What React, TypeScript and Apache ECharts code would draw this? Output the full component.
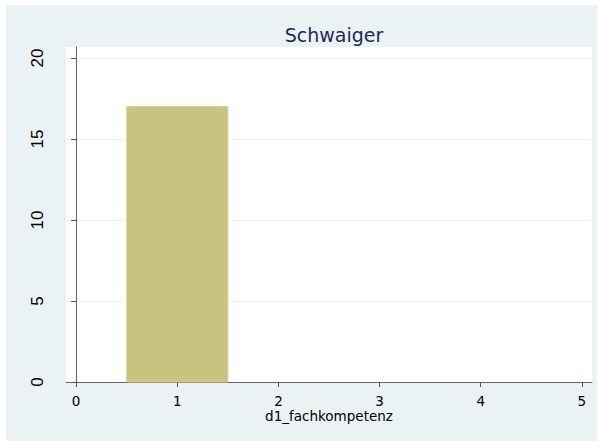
import React, { useEffect, useRef } from "react";
import * as echarts from "echarts";

const titleText = "Schwaiger";
const xName = "d1_fachkompetenz";
// histogram bins: [start, end, frequency]
const binStarts = [0.5];
const binEnds = [1.5];
const binFreqs = [17];
const xTicks = [0, 1, 2, 3, 4, 5];
const yTicks = [0, 5, 10, 15, 20];

export default function App() {
  const ref = useRef<HTMLDivElement>(null);
  useEffect(() => {
    document.body.style.margin = "0";
    const chart = echarts.init(ref.current!, null, { renderer: "svg" });
    const data = binStarts.map((s, i) => [s, binEnds[i], binFreqs[i]]);
    chart.setOption({
      animation: false,
      backgroundColor: "#ffffff",
      graphic: [
        {
          type: "rect",
          z: -10,
          shape: { x: 6, y: 5, width: 591, height: 436 },
          style: { fill: "#EAF2F3" },
          silent: true,
        },
      ],
      title: {
        text: titleText,
        left: 329,
        textAlign: "center",
        top: 20,
        textStyle: {
          fontFamily: "DejaVu Sans",
          fontSize: 19,
          fontWeight: "normal",
          color: "#1E2A55",
        },
      },
      grid: {
        left: 66,
        right: 7,
        top: 47,
        bottom: 59,
        show: true,
        backgroundColor: "#ffffff",
        borderWidth: 0,
      },
      xAxis: {
        type: "value",
        min: -0.1,
        max: 5.1,
        name: xName,
        nameLocation: "middle",
        nameGap: 27,
        nameMoveOverlap: false,
        nameTextStyle: { fontFamily: "DejaVu Sans", fontSize: 13.5, lineHeight: 13, color: "#000" },
        axisLine: { show: true, onZero: false, lineStyle: { color: "#666", width: 1 } },
        axisTick: {
          show: true,
          customValues: xTicks,
          length: 5,
          lineStyle: { color: "#555", width: 1 },
        },
        axisLabel: {
          customValues: xTicks,
          margin: 12,
          fontFamily: "DejaVu Sans",
          fontSize: 13.5,
          lineHeight: 13,
          color: "#000",
        },
        splitLine: { show: false },
      },
      yAxis: {
        type: "value",
        min: 0,
        max: 20.68,
        axisLine: { show: true, lineStyle: { color: "#666", width: 1 } },
        axisTick: {
          show: true,
          customValues: yTicks,
          length: 5,
          lineStyle: { color: "#555", width: 1 },
        },
        axisLabel: {
          customValues: yTicks,
          rotate: 90,
          margin: 20,
          fontFamily: "Liberation Sans",
          fontSize: 17,
          color: "#000",
        },
        splitLine: { show: true, lineStyle: { color: "#EEF4F5", width: 1 } },
      },
      series: [
        {
          type: "custom",
          data,
          renderItem: (params: any, api: any) => {
            const p0 = api.coord([api.value(0), 0]);
            const p1 = api.coord([api.value(1), api.value(2)]);
            return {
              type: "rect",
              shape: {
                x: p0[0],
                y: p1[1],
                width: p1[0] - p0[0],
                height: p0[1] - p1[1],
              },
              style: { fill: "#C9C380", stroke: "#D5D09B", lineWidth: 1 },
            };
          },
        },
      ],
    });
    return () => chart.dispose();
  }, []);
  return <div ref={ref} style={{ width: 599, height: 441 }} />;
}
